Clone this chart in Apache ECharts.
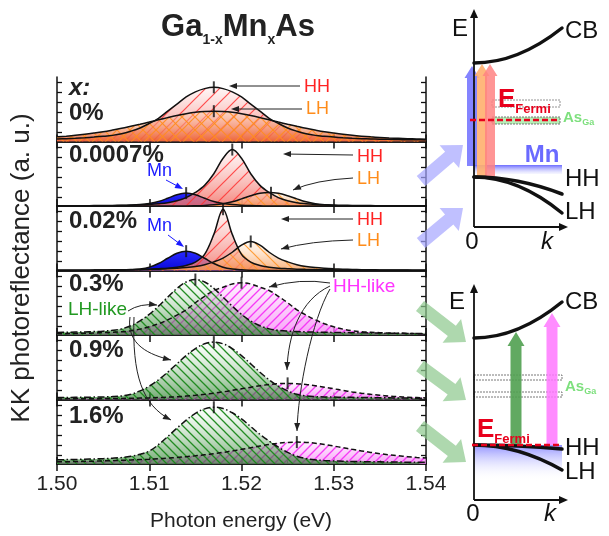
<!DOCTYPE html>
<html><head><meta charset="utf-8">
<script src="https://cdn.jsdelivr.net/npm/echarts@6/dist/echarts.min.js"></script>
<style>html,body{margin:0;padding:0;background:#fff}#c{width:609px;height:536px}</style>
</head><body><div id="c"></div><script>
// ---------------- data ----------------
const energy = [1.500,1.501,1.502,1.503,1.504,1.505,1.506,1.507,1.508,1.509,1.510,1.511,1.512,1.513,1.514,1.515,1.516,1.517,1.518,1.519,1.520,1.521,1.522,1.523,1.524,1.525,1.526,1.527,1.528,1.529,1.530,1.531,1.532,1.533,1.534,1.535,1.536,1.537,1.538,1.539,1.540];
const xTickLabels = ['1.50','1.51','1.52','1.53','1.54'];
const yTickValues = [0.14,0.295,0.45,0.605,0.76,0.915];
const panelLabels = ['0%','0.0007%','0.02%','0.3%','0.9%','1.6%'];

// x = 0 %
const p1HH = [0.04,0.044,0.05,0.058,0.068,0.08,0.095,0.12,0.16,0.21,0.28,0.36,0.47,0.58,0.69,0.77,0.82,0.84,0.82,0.77,0.69,0.58,0.47,0.36,0.28,0.21,0.16,0.12,0.095,0.08,0.068,0.058,0.05,0.044,0.04,0.036,0.033,0.03,0.028,0.026,0.024];
const p1LH = [0.072,0.083,0.096,0.112,0.131,0.152,0.177,0.204,0.235,0.267,0.301,0.336,0.370,0.402,0.430,0.452,0.465,0.47,0.465,0.452,0.430,0.402,0.370,0.336,0.301,0.267,0.235,0.204,0.177,0.152,0.131,0.112,0.096,0.083,0.072,0.063,0.055,0.049,0.044,0.040,0.036];
// x = 0.0007 %
const p2Mn = [0,0,0,0,0,0,0.003,0.006,0.012,0.022,0.04,0.07,0.12,0.175,0.2,0.175,0.12,0.07,0.04,0.022,0.012,0.006,0.003,0,0,0,0,0,0,0,0,0,0,0,0,0,0,0,0,0,0];
const p2HH = [0.003,0.004,0.004,0.005,0.006,0.007,0.009,0.011,0.014,0.018,0.025,0.035,0.05,0.08,0.13,0.21,0.32,0.50,0.74,0.875,0.74,0.50,0.32,0.21,0.13,0.08,0.05,0.035,0.025,0.018,0.014,0.011,0.009,0.007,0.006,0.005,0.004,0.004,0.003,0.003,0.003];
const p2LH = [0,0,0,0,0,0,0,0,0,0,0,0,0,0,0,0.003,0.008,0.018,0.035,0.065,0.11,0.16,0.198,0.21,0.198,0.16,0.11,0.065,0.035,0.018,0.008,0.003,0,0,0,0,0,0,0,0,0];
// x = 0.02 %
const p3Mn = [0,0,0,0,0,0,0,0.004,0.01,0.022,0.05,0.108,0.19,0.268,0.30,0.268,0.19,0.108,0.05,0.022,0.01,0.004,0,0,0,0,0,0,0,0,0,0,0,0,0,0,0,0,0,0,0];
const p3HH = [0.003,0.0035,0.004,0.005,0.006,0.008,0.01,0.012,0.014,0.017,0.021,0.028,0.036,0.052,0.078,0.131,0.25,0.56,0.95,0.56,0.25,0.131,0.078,0.052,0.036,0.028,0.021,0.017,0.014,0.012,0.01,0.008,0.006,0.005,0.004,0.0035,0.003,0.003,0.002,0.002,0.002];
const p3LH = [0.004,0.004,0.005,0.005,0.006,0.007,0.008,0.009,0.011,0.013,0.016,0.02,0.026,0.034,0.045,0.062,0.09,0.134,0.193,0.283,0.392,0.45,0.392,0.283,0.193,0.134,0.09,0.062,0.045,0.034,0.026,0.02,0.016,0.013,0.011,0.009,0.008,0.007,0.006,0.005,0.005];
// x = 0.3 %
const p4Green = [0.04,0.042,0.045,0.048,0.053,0.06,0.072,0.095,0.143,0.218,0.32,0.447,0.587,0.722,0.822,0.86,0.822,0.722,0.587,0.447,0.32,0.218,0.143,0.095,0.072,0.06,0.053,0.048,0.045,0.042,0.04,0.038,0.036,0.034,0.032,0.03,0.028,0.026,0.025,0.024,0.023];
const p4Pink = [0.019,0.021,0.024,0.027,0.031,0.036,0.042,0.05,0.065,0.091,0.127,0.174,0.235,0.308,0.391,0.50,0.60,0.69,0.74,0.791,0.81,0.791,0.74,0.69,0.60,0.50,0.391,0.308,0.235,0.174,0.127,0.091,0.065,0.05,0.042,0.036,0.031,0.027,0.024,0.021,0.019];
// x = 0.9 %
const p5Green = [0.03,0.031,0.033,0.035,0.037,0.04,0.045,0.055,0.08,0.133,0.207,0.305,0.423,0.553,0.681,0.79,0.864,0.89,0.864,0.79,0.681,0.553,0.423,0.305,0.207,0.133,0.08,0.055,0.045,0.04,0.037,0.035,0.033,0.031,0.03,0.028,0.026,0.024,0.022,0.02,0.018];
const p5Pink = [0.009,0.010,0.011,0.0115,0.0125,0.014,0.015,0.017,0.019,0.022,0.025,0.030,0.036,0.043,0.053,0.065,0.080,0.098,0.118,0.141,0.166,0.190,0.213,0.233,0.245,0.25,0.245,0.233,0.213,0.190,0.166,0.141,0.118,0.098,0.080,0.065,0.053,0.043,0.036,0.030,0.025];
// x = 1.6 %
const p6Green = [0.065,0.068,0.071,0.074,0.078,0.083,0.09,0.1,0.12,0.15,0.2,0.3,0.425,0.555,0.68,0.786,0.855,0.88,0.86,0.795,0.70,0.58,0.46,0.355,0.26,0.18,0.12,0.085,0.065,0.055,0.048,0.043,0.04,0.037,0.035,0.033,0.031,0.03,0.028,0.027,0.026];
const p6Pink = [0.033,0.035,0.038,0.041,0.044,0.048,0.052,0.057,0.062,0.068,0.075,0.083,0.0915,0.102,0.114,0.127,0.143,0.160,0.180,0.203,0.227,0.253,0.278,0.302,0.322,0.335,0.34,0.335,0.322,0.302,0.278,0.253,0.227,0.203,0.180,0.160,0.143,0.127,0.114,0.102,0.0915];

// peak markers (energy, height) per panel
const markE = [[1.517,1.517],[1.514,1.519,1.5232],[1.514,1.518,1.521],[1.515,1.520],[1.517,1.525],[1.517,1.526]];
const markY = [[0.84,0.47],[0.2,0.875,0.205],[0.3,0.95,0.45],[0.86,0.81],[0.89,0.25],[0.88,0.34]];

// ---------------- styling helpers ----------------
const FONT = '"Liberation Sans", Arial, Helvetica, sans-serif';
const LG = (a,b) => new echarts.graphic.LinearGradient(0,0,0,1,[{offset:0,color:a},{offset:1,color:b}]);
function hatch(color, size, dirs, lw){
  const c = document.createElement('canvas'); c.width = size; c.height = size;
  const ctx = c.getContext('2d'); ctx.strokeStyle = color; ctx.lineWidth = lw || 1.2;
  dirs.split('').forEach(d => {
    ctx.beginPath();
    if (d === '/') {
      ctx.moveTo(-1,size+1); ctx.lineTo(size+1,-1);
      ctx.moveTo(-1,1); ctx.lineTo(1,-1);
      ctx.moveTo(size-1,size+1); ctx.lineTo(size+1,size-1);
    } else {
      ctx.moveTo(-1,-1); ctx.lineTo(size+1,size+1);
      ctx.moveTo(size-1,-1); ctx.lineTo(size+1,1);
      ctx.moveTo(-1,size-1); ctx.lineTo(1,size+1);
    }
    ctx.stroke();
  });
  return {image:c, repeat:'repeat'};
}
const hRed = hatch('rgba(255,50,50,0.85)',14,'/');
const hOrX = hatch('rgba(255,140,30,0.9)',13,'/\\');
const hOr = hatch('rgba(255,150,40,0.9)',12,'\\');
const hGreen = hatch('rgba(25,135,25,0.95)',9,'\\',1.3);
const hPink = hatch('rgba(245,50,245,0.95)',9,'/',1.3);

const series = [];
function curve(gi, vals, grad, pat, ls){
  const data = energy.map((e,k)=>[e, vals[k]]);
  series.push({type:'line', xAxisIndex:2*gi, yAxisIndex:2*gi, data, smooth:0.35, symbol:'none', silent:true,
    lineStyle:{width:0, opacity:0}, areaStyle:{color:grad, opacity:1}});
  series.push({type:'line', xAxisIndex:2*gi, yAxisIndex:2*gi, data, smooth:0.35, symbol:'none', silent:true,
    lineStyle:Object.assign({color:'#111', width:1.5}, ls||{}), areaStyle:{color:pat, opacity:1}});
}
function mn(gi, vals){
  series.push({type:'line', xAxisIndex:2*gi, yAxisIndex:2*gi, data:energy.map((e,k)=>[e, vals[k]]), smooth:0.35, symbol:'none', silent:true,
    lineStyle:{color:'#111', width:1.5}, areaStyle:{color:LG('#2a2aff','#0808d8'), opacity:1}});
}
const gHH = () => LG('rgba(255,238,238,0.55)','rgba(242,115,105,0.85)');
const dashP = {type:[5,3]}, dashG = {type:[7,2.5,1.5,2.5]};

curve(0, p1HH, gHH(), hRed);
curve(0, p1LH, LG('rgba(255,220,190,0.35)','rgba(236,95,45,0.85)'), hOrX);
mn(1, p2Mn);
curve(1, p2HH, gHH(), hRed);
curve(1, p2LH, LG('rgba(255,235,210,0.35)','rgba(246,150,80,0.75)'), hOr);
mn(2, p3Mn);
curve(2, p3HH, gHH(), hRed);
curve(2, p3LH, LG('rgba(255,235,210,0.35)','rgba(246,150,80,0.75)'), hOr);
const gPink = () => LG('rgba(255,228,255,0.6)','rgba(245,130,245,0.75)');
const gGreen = () => LG('rgba(240,255,240,0.25)','rgba(25,115,25,0.62)');
curve(3, p4Pink, gPink(), hPink, dashP);
curve(3, p4Green, gGreen(), hGreen, dashG);
curve(4, p5Pink, gPink(), hPink, dashP);
curve(4, p5Green, gGreen(), hGreen, dashG);
curve(5, p6Pink, gPink(), hPink, dashP);
curve(5, p6Green, gGreen(), hGreen, dashG);
for (let i=0;i<6;i++){
  series.push({type:'scatter', xAxisIndex:2*i, yAxisIndex:2*i, data:markE[i].map((e,k)=>[e, markY[i][k]]),
    symbol:'rect', symbolSize:[2,12], itemStyle:{color:'#111'}, silent:true, z:5});
}

// ---------------- axes ----------------
const grids=[], xAxes=[], yAxes=[];
const axLine = {show:true, lineStyle:{color:'#111', width:1.5}};
for (let i=0;i<6;i++){
  grids.push({left:57, right:183, top:77+i*64.5, height:64.5});
  const last = i===5;
  ['bottom','top'].forEach(pos => xAxes.push({gridIndex:i, type:'value', min:1.5, max:1.54, interval:0.01, position:pos,
    axisLine:axLine, axisTick:{show:true, inside:true, length:7, lineStyle:{color:'#111', width:1.5}},
    minorTick:{show:last && pos==='bottom', splitNumber:2, length:4, lineStyle:{color:'#111', width:1.2}},
    axisLabel:{show:last && pos==='bottom', margin:10, fontSize:21, color:'#222', fontFamily:FONT,
      formatter:v => xTickLabels[Math.round((v-1.5)*100)]},
    splitLine:{show:false}, minorSplitLine:{show:false}}));
  ['left','right'].forEach(pos => yAxes.push({gridIndex:i, type:'value', min:0, max:1, position:pos,
    axisLine:axLine, axisTick:{show:true, inside:true, length:5, customValues:yTickValues, lineStyle:{color:'#111', width:1.3}},
    axisLabel:{show:false}, splitLine:{show:false}}));
}

// ---------------- annotations ----------------
const G = [];
function T(x, y, text, o, extra){
  G.push(Object.assign({type:'text', x, y, z:100, silent:true,
    style:Object.assign({text, fill:'#222', fontFamily:FONT, fontSize:18, align:'left', verticalAlign:'middle'}, o||{})}, extra||{}));
}
function head(x, y, ang, len, wid, color){
  const bx = x-len*Math.cos(ang), by = y-len*Math.sin(ang);
  const nx = -Math.sin(ang)*wid/2, ny = Math.cos(ang)*wid/2;
  G.push({type:'polygon', z:101, silent:true, shape:{points:[[x,y],[bx+nx,by+ny],[bx-nx,by-ny]]}, style:{fill:color}});
}
function arrowLine(x1,y1,x2,y2,color,w){
  color = color || '#222';
  const a = Math.atan2(y2-y1,x2-x1);
  G.push({type:'line', z:100, silent:true, shape:{x1,y1,x2:x2-5*Math.cos(a),y2:y2-5*Math.sin(a)}, style:{stroke:color, lineWidth:w||1}});
  head(x2,y2,a,8,6,color);
}
function arrowCurve(x1,y1,c1x,c1y,c2x,c2y,x2,y2,color,w){
  color = color || '#222';
  const shape = {x1,y1,x2,y2,cpx1:c1x,cpy1:c1y};
  if (c2x != null){ shape.cpx2 = c2x; shape.cpy2 = c2y; }
  const px = c2x != null ? c2x : c1x, py = c2x != null ? c2y : c1y;
  const a = Math.atan2(y2-py, x2-px);
  G.push({type:'bezierCurve', z:100, silent:true, shape, style:{stroke:color, lineWidth:w||1, fill:'none'}});
  head(x2,y2,a,8,6,color);
}
function block(x1,y1,x2,y2,sw,hw,hl,color,z){
  const a = Math.atan2(y2-y1,x2-x1), c = Math.cos(a), s = Math.sin(a), nx = -s, ny = c;
  const bx = x2-hl*c, by = y2-hl*s;
  G.push({type:'polygon', z:z||90, silent:true, style:{fill:color}, shape:{points:[
    [x1+nx*sw/2,y1+ny*sw/2],[bx+nx*sw/2,by+ny*sw/2],[bx+nx*hw/2,by+ny*hw/2],[x2,y2],
    [bx-nx*hw/2,by-ny*hw/2],[bx-nx*sw/2,by-ny*sw/2],[x1-nx*sw/2,y1-ny*sw/2]]}});
}
function band(x1,y1,cx,cy,x2,y2){
  G.push({type:'bezierCurve', z:95, silent:true, shape:{x1,y1,cpx1:cx,cpy1:cy,x2,y2}, style:{stroke:'#111', lineWidth:3.5, fill:'none', lineCap:'round'}});
}
function rect(x,y,w,h,style,z){ G.push({type:'rect', z:z||92, silent:true, shape:{x,y,width:w,height:h}, style}); }
function hline(x1,x2,y,style,z){ G.push({type:'line', z:z||96, silent:true, shape:{x1,y1:y,x2,y2:y}, style}); }

// title & axis names
T(238, 27, '{m|Ga}{s|1-x}{m|Mn}{s|x}{m|As}', {align:'center', rich:{
  m:{fontSize:31, fontWeight:'bold', fontFamily:FONT, fill:'#222'},
  s:{fontSize:14, fontWeight:'bold', fontFamily:FONT, fill:'#222', padding:[27,0,0,0]}}});
T(241, 521, 'Photon energy (eV)', {align:'center', fontSize:21});
T(22, 268, 'KK photoreflectance (a. u.)', {align:'center', fontSize:26}, {rotation:Math.PI/2});

// panel labels
T(69, 88, 'x:', {fontSize:24, fontWeight:'bold', fontStyle:'italic'});
const labY = [113,155,221,284,350,416];
panelLabels.forEach((t,i) => T(69, labY[i], t, {fontSize:24, fontWeight:'bold'}));

// band labels in the spectra
const RED = '#ff2222', ORG = '#ff8c1a', BLU = '#1a1aff';
T(304, 87, 'HH', {fill:RED}); T(306, 109, 'LH', {fill:ORG});
arrowLine(300,86,229,86); arrowLine(302,109,231,109);
T(357, 157, 'HH', {fill:RED}); T(357, 179, 'LH', {fill:ORG});
arrowLine(353,155,283,154); arrowCurve(353,178,315,180,null,null,293,190);
T(357, 220, 'HH', {fill:RED}); T(357, 241, 'LH', {fill:ORG});
arrowLine(353,219,281,219); arrowCurve(353,240,310,241,null,null,281,249);
T(147, 171, 'Mn', {fill:BLU}); arrowLine(166,180,183,189,BLU);
T(147, 226, 'Mn', {fill:BLU}); arrowLine(168,235,184,247,BLU);
T(68, 310, 'LH-like', {fill:'#229922', fontSize:19});
arrowCurve(128,311,140,303,null,null,157,305);
arrowCurve(130,317,126,345,150,355,171,360);
arrowCurve(134,317,132,375,142,405,171,420);
T(333, 287, 'HH-like', {fill:'#ff33ff', fontSize:19});
arrowCurve(330,283,300,278,null,null,269,287);
arrowCurve(330,286,300,300,288,335,287,370);
arrowCurve(330,289,312,320,298,390,297,431);

// translucent pointer arrows
const PB = 'rgba(165,165,255,0.7)', PG = 'rgba(140,200,140,0.7)';
block(421,181,463,145,13,30,18,PB);
block(421,243,463,208,13,30,18,PB);
block(420,306,466,342,13,30,18,PG);
block(420,366,466,400,13,30,18,PG);
block(420,426,466,462,13,30,18,PG);

// ---- top band diagram ----
rect(474,165,88,9,{fill:LG('rgba(100,100,255,0.95)','rgba(210,210,255,0.2)')},91);
block(472,166,472,66,10,15,12,'rgba(110,110,255,0.85)',93);
block(482,177,482,64,10,15,12,'rgba(255,175,110,0.9)',93);
block(490,177,490,64,10,15,12,'rgba(255,130,130,0.85)',93);
G.push({type:'line', z:96, silent:true, shape:{x1:474,y1:227,x2:474,y2:16}, style:{stroke:'#111', lineWidth:1.8}});
head(474,9,-Math.PI/2,9,8,'#111');
G.push({type:'line', z:96, silent:true, shape:{x1:474,y1:227,x2:561,y2:227}, style:{stroke:'#111', lineWidth:1.8}});
head(568,227,0,9,8,'#111');
band(474,63,518,63,562,28);
band(474,177,518,177,562,194);
band(474,177,518,177,562,213);
rect(492,100,68,7,{fill:'none', stroke:'#777', lineWidth:0.8, lineDash:[2,1]});
rect(492,117,68,7,{fill:'rgba(170,235,170,0.85)', stroke:'#555', lineWidth:0.8, lineDash:[2,1]});
hline(470,560,120,{stroke:'#e8001c', lineWidth:2.5, lineDash:[6,3]});
T(498, 100, '{m|E}{s|Fermi}', {rich:{m:{fontSize:26, fontWeight:'bold', fontFamily:FONT, fill:'#e8001c'},
  s:{fontSize:13, fontWeight:'bold', fontFamily:FONT, fill:'#e8001c', padding:[19,0,0,0]}}});
T(563, 118, '{m|As}{s|Ga}', {rich:{m:{fontSize:15, fontWeight:'bold', fontFamily:FONT, fill:'#7ee07e'},
  s:{fontSize:9, fontWeight:'bold', fontFamily:FONT, fill:'#7ee07e', padding:[10,0,0,0]}}});
T(542, 155, 'Mn', {fill:'#6a6aff', fontSize:24, fontWeight:'bold', align:'center'});
T(460, 29, 'E', {fontSize:24, align:'center', fill:'#111'});
T(565, 31, 'CB', {fontSize:24, fill:'#111'});
T(565, 179, 'HH', {fontSize:24, fill:'#111'});
T(565, 212, 'LH', {fontSize:24, fill:'#111'});
T(472, 242, '0', {fontSize:24, align:'center', fill:'#111'});
T(547, 242, 'k', {fontSize:24, align:'center', fontStyle:'italic', fill:'#111'});

// ---- bottom band diagram ----
rect(474,445,88,36,{fill:LG('rgba(110,110,255,0.75)','rgba(255,255,255,0)')},91);
G.push({type:'line', z:96, silent:true, shape:{x1:474,y1:500,x2:474,y2:291}, style:{stroke:'#111', lineWidth:1.8}});
head(474,284,-Math.PI/2,9,8,'#111');
G.push({type:'line', z:96, silent:true, shape:{x1:474,y1:500,x2:561,y2:500}, style:{stroke:'#111', lineWidth:1.8}});
head(568,500,0,9,8,'#111');
band(474,338,518,338,562,302);
band(474,445,518,445,562,449);
band(474,445,518,445,562,470);
rect(474,375,88,5,{fill:'none', stroke:'#555', lineWidth:0.8, lineDash:[2,1]});
rect(474,392,88,5,{fill:'none', stroke:'#555', lineWidth:0.8, lineDash:[2,1]});
block(516,445,516,332,11,17,14,'rgba(80,160,80,0.9)',93);
block(552,445,552,313,11,17,14,'rgba(255,120,255,0.85)',93);
hline(472,562,445,{stroke:'#e8001c', lineWidth:2.5, lineDash:[6,3]},97);
T(477, 430, '{m|E}{s|Fermi}', {rich:{m:{fontSize:26, fontWeight:'bold', fontFamily:FONT, fill:'#e8001c'},
  s:{fontSize:13, fontWeight:'bold', fontFamily:FONT, fill:'#e8001c', padding:[19,0,0,0]}}});
T(565, 387, '{m|As}{s|Ga}', {rich:{m:{fontSize:15, fontWeight:'bold', fontFamily:FONT, fill:'#7ee07e'},
  s:{fontSize:9, fontWeight:'bold', fontFamily:FONT, fill:'#7ee07e', padding:[10,0,0,0]}}});
T(457, 302, 'E', {fontSize:24, align:'center', fill:'#111'});
T(565, 302, 'CB', {fontSize:24, fill:'#111'});
T(565, 448, 'HH', {fontSize:24, fill:'#111'});
T(565, 472, 'LH', {fontSize:24, fill:'#111'});
T(473, 514, '0', {fontSize:24, align:'center', fill:'#111'});
T(550, 514, 'k', {fontSize:24, align:'center', fontStyle:'italic', fill:'#111'});

const chart = echarts.init(document.getElementById('c'), null, {renderer:'canvas'});
chart.setOption({
  animation:false,
  backgroundColor:'#fff',
  textStyle:{fontFamily:FONT},
  grid:grids, xAxis:xAxes, yAxis:yAxes, series,
  graphic:{elements:G}
});
</script></body></html>
